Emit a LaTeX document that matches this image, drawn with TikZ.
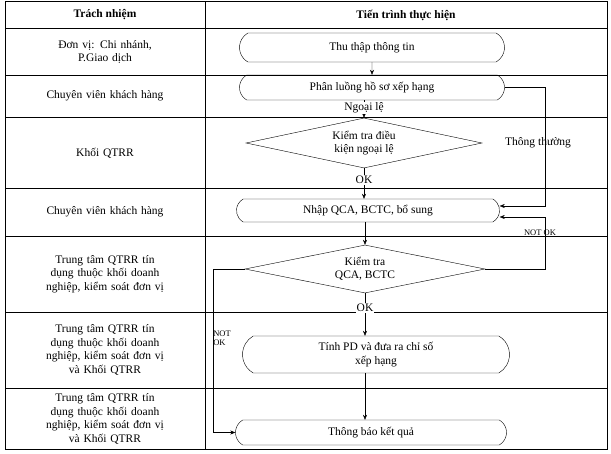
\documentclass[tikz,border=0pt]{standalone}
\usepackage{fontspec}
\setmainfont{Liberation Serif}
\usetikzlibrary{shapes.geometric,shapes.misc,arrows.meta}
\begin{document}
\begin{tikzpicture}[x=1pt,y=-1pt,font=\fontsize{11.5}{13.5}\selectfont,
  term/.style={draw,rounded rectangle,rounded rectangle arc length=120,inner sep=0pt,align=center},
  dec/.style={draw,diamond,aspect=4.6,inner sep=0pt},
  arr/.style={-{Stealth[length=5pt,width=4pt]}},
  lab/.style={inner sep=1pt,align=center},
  cell/.style={align=center,text width=195pt,inner sep=0pt}]
\useasboundingbox (0,0) rectangle (611,454);
\fill[white] (0,0) rectangle (611,454);
% table
\draw[line width=1pt] (5,2) rectangle (607,450);
\draw (205,2) -- (205,450);
\foreach \y in {28,75,117,188,236,312,388} \draw (5,\y) -- (607,\y);
\node[font=\fontsize{11.5}{13.5}\selectfont\bfseries] (h1) at (105,15) {Trách nhiệm};
\node[font=\fontsize{11.5}{13.5}\selectfont\bfseries] (h2) at (406,15) {Tiến trình thực hiện};
\node[cell] (l1) at (105,52) {Đơn vị: Chi nhánh,\\P.Giao dịch};
\node[cell] (l2) at (105,96) {Chuyên viên khách hàng};
\node[cell] (l3) at (105,153) {Khối QTRR};
\node[cell] (l4) at (105,212) {Chuyên viên khách hàng};
\node[cell] (l5) at (105,274) {Trung tâm QTRR tín\\dụng thuộc khối doanh\\nghiệp, kiểm soát đơn vị};
\node[cell] (l6) at (105,350) {Trung tâm QTRR tín\\dụng thuộc khối doanh\\nghiệp, kiểm soát đơn vị\\và Khối QTRR};
\node[cell] (l7) at (105,419) {Trung tâm QTRR tín\\dụng thuộc khối doanh\\nghiệp, kiểm soát đơn vị\\và Khối QTRR};
% flow
\node[term,minimum width=265pt,minimum height=29pt] (n1) at (372,47.5) {Thu thập thông tin};
\node[term,minimum width=265pt,minimum height=25pt] (n2) at (372,87.5) {Phân luồng hồ sơ xếp hạng};
\node[dec,minimum width=236pt,minimum height=50pt,align=center] (d1) at (364,143) {Kiểm tra điều\\kiện ngoại lệ};
\node[term,minimum width=263pt,minimum height=23pt] (n3) at (368,210.5) {Nhập QCA, BCTC, bổ sung};
\node[dec,minimum width=240pt,minimum height=48pt,align=center] (d2) at (365,269) {Kiểm tra\\QCA, BCTC};
\node[term,minimum width=267pt,minimum height=37pt] (n4) at (376,354.5) {Tính PD và đưa ra chỉ số\\xếp hạng};
\node[term,minimum width=271pt,minimum height=25pt] (n5) at (371,432.5) {Thông báo kết quả};
\coordinate (c1) at (545,87.5);
\coordinate (c2) at (545,206);
\coordinate (c3) at (545,269);
\coordinate (c4) at (545,217);
\coordinate (c5) at (213,269);
\coordinate (c6) at (213,432.5);
\draw[arr] (n1) -- (n2);
\draw[arr] (n2.south -| d1.north) -- (d1.north);
\draw[arr] (d1.south) -- (d1.south |- n3.north);
\draw[arr] (n3.south -| d2.north) -- (d2.north);
\draw[arr] (d2.south) -- (d2.south |- n4.north);
\draw[arr] (n4.south -| d2.south) -- (n5.north -| d2.south);
\draw[arr] (n2.east) -- (c1) -- (c2) -- (n3.east |- c2);
\draw[arr] (d2.east) -- (c3) -- (c4) -- (n3.east |- c4);
\draw[arr] (d2.west) -- (c5) -- (c6) -- (n5.west);
\node[lab,fill=white] (t1) at (364,108) {Ngoại lệ};
\node[lab,fill=white] (t2) at (364,180) {OK};
\node[lab] (t3) at (538,143) {Thông thường};
\node[lab,font=\fontsize{8.5}{9.5}\selectfont] (t4) at (540,233) {NOT OK};
\node[lab,fill=white] (t5) at (365,308) {OK};
\node[lab,font=\fontsize{8.5}{9.5}\selectfont,align=left] (t6) at (222,338) {NOT\\OK};
\end{tikzpicture}
\end{document}
